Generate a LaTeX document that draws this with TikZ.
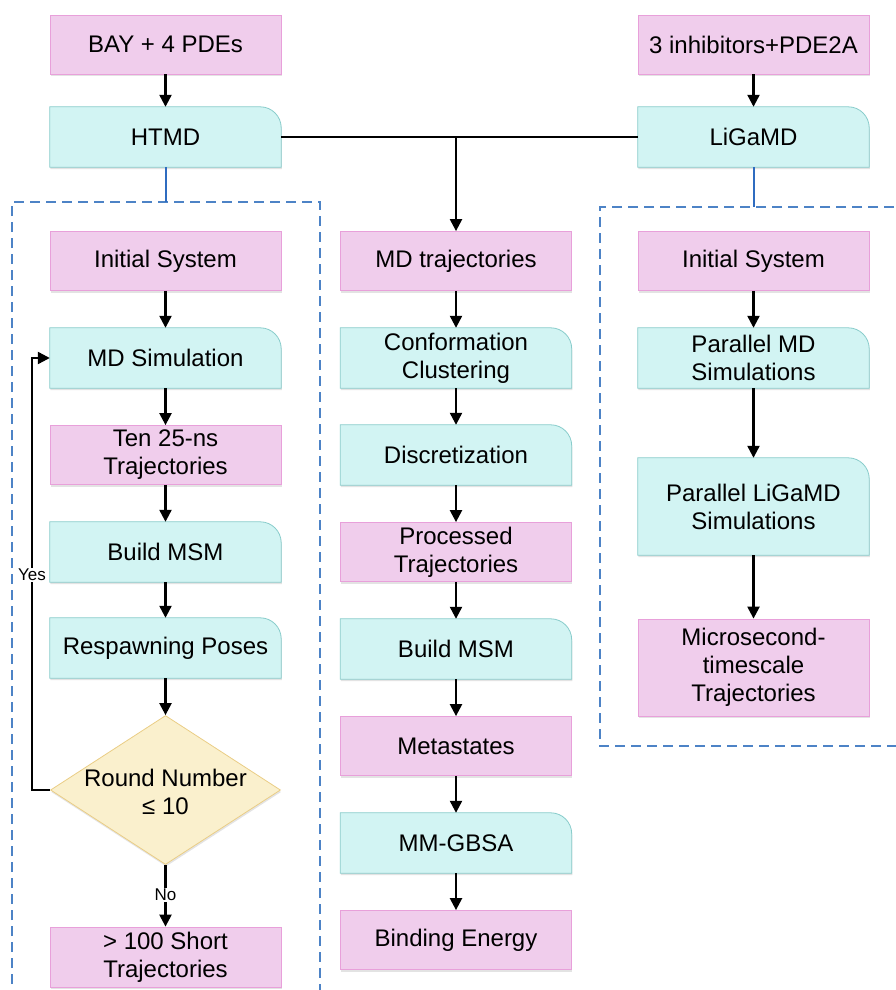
\documentclass[tikz,border=0pt]{standalone}
\usepackage{fontspec}
\setmainfont{Liberation Sans}
\usetikzlibrary{shapes.geometric,arrows.meta,backgrounds,shadows}
\definecolor{pinkfill}{HTML}{F0CDEC}
\definecolor{pinkline}{HTML}{E8A0DA}
\definecolor{cyanfill}{HTML}{D2F4F3}
\definecolor{cyanline}{HTML}{88CCCB}
\definecolor{yelfill}{HTML}{FAF0CD}
\definecolor{yelline}{HTML}{EACD85}
\definecolor{dashblue}{HTML}{4D83C6}
\definecolor{linkblue}{HTML}{2F6CC0}
\begin{document}
\begin{tikzpicture}[x=1pt,y=-1pt,
  every node/.style={font=\fontsize{24}{28}\selectfont, align=center, inner sep=0pt},
  softshadow/.style={drop shadow={shadow xshift=0.6pt, shadow yshift=-2pt, opacity=0.18, fill=black!60}},
  pinkbox/.style={draw=pinkline, fill=pinkfill, line width=0.8pt, minimum width=231pt, minimum height=59pt, softshadow},
  cyanbox/.style={minimum width=231pt, minimum height=60pt},
  arr/.style={line width=2.3pt, -{Triangle[length=12pt,width=12pt]}},
  plainline/.style={line width=2.3pt},
  blueline/.style={draw=linkblue, line width=2pt},
  dashbox/.style={draw=dashblue, line width=1.4pt, dash pattern=on 10pt off 6pt},
  lbl/.style={font=\fontsize{17}{20}\selectfont, fill=white, inner sep=1.5pt}
]
\useasboundingbox (0,0) rectangle (896,990);

% top row
\node[pinkbox] (bay) at (165.5,44.5) {BAY + 4 PDEs};
\node[cyanbox] (htmd) at (165.5,137) {HTMD};
\node[pinkbox] (inh) at (753.5,44.5) {3 inhibitors+PDE2A};
\node[cyanbox] (ligamd) at (753.5,137) {LiGaMD};

% left column
\node[pinkbox] (lis) at (165.5,261) {Initial System};
\node[cyanbox] (lmd) at (165.5,358) {MD Simulation};
\node[pinkbox] (lten) at (165.5,455) {Ten 25-ns\\Trajectories};
\node[cyanbox] (lmsm) at (165.5,552) {Build MSM};
\node[cyanbox] (lresp) at (165.5,648) {Respawning Poses};
\node[diamond, draw=yelline, fill=yelfill, line width=0.8pt, minimum width=230pt, minimum height=149pt, softshadow] (dia) at (165.5,790) {};
\node (diatext) at (165.5,792) {Round Number\\≤ 10};
\node[pinkbox, minimum height=60pt] (lshort) at (165.5,957) {> 100 Short\\Trajectories};

% middle column
\node[pinkbox] (mtraj) at (456,261) {MD trajectories};
\node[cyanbox] (mconf) at (456,358) {Conformation\\Clustering};
\node[cyanbox] (mdisc) at (456,455) {Discretization};
\node[pinkbox] (mproc) at (456,552) {Processed\\Trajectories};
\node[cyanbox] (mmsm) at (456,649) {Build MSM};
\node[pinkbox] (mmeta) at (456,746) {Metastates};
\node[cyanbox] (mgbsa) at (456,843) {MM-GBSA};
\node[pinkbox] (mbind) at (456,940) {Binding Energy};

% right column
\node[pinkbox] (ris) at (753.5,261) {Initial System};
\node[cyanbox] (rpmd) at (753.5,358) {Parallel MD\\Simulations};
\node[cyanbox, minimum height=97pt] (rplig) at (753.5,506.5) {Parallel LiGaMD\\Simulations};
\node[pinkbox, minimum height=97pt] (rmicro) at (753.5,667.5) {Microsecond-\\timescale\\Trajectories};

% cyan shapes (rounded top-right corner)
\begin{scope}[on background layer]
\foreach \n in {htmd,ligamd,lmd,lmsm,lresp,mconf,mdisc,mmsm,mgbsa,rpmd,rplig}{
  \draw[draw=cyanline, fill=cyanfill, line width=0.8pt, softshadow]
    (\n.south west) -- (\n.north west) -- ([xshift=-21pt]\n.north east)
    arc[start angle=90, end angle=0, radius=21pt] -- (\n.south east) -- cycle;
}
\end{scope}

% dashed group frames
\coordinate (lf1) at (12,1000);
\coordinate (lf2) at (12,202);
\coordinate (lf3) at (320,202);
\coordinate (lf4) at (320,1000);
\draw[dashbox] (lf1) -- (lf2) -- (lf3) -- (lf4);
\coordinate (rf1) at (910,207);
\coordinate (rf2) at (600,207);
\coordinate (rf3) at (600,746);
\coordinate (rf4) at (910,746);
\draw[dashbox] (rf1) -- (rf2) -- (rf3) -- (rf4);
\coordinate (ltop) at (165.5,202);
\coordinate (rtop) at (753.5,207);
\draw[blueline] (htmd.south) -- (ltop);
\draw[blueline] (ligamd.south) -- (rtop);

% top connectors
\draw[arr] (bay) -- (htmd);
\draw[arr] (inh) -- (ligamd);
\draw[plainline] (htmd.east) -- (ligamd.west);
\coordinate (junc) at (htmd.east -| mtraj.north);
\draw[arr] (junc) -- (mtraj.north);

% left flow
\draw[arr] (lis) -- (lmd);
\draw[arr] (lmd) -- (lten);
\draw[arr] (lten) -- (lmsm);
\draw[arr] (lmsm) -- (lresp);
\draw[arr] (lresp.south) -- (dia.north);
\coordinate (yescorner) at (32,790);
\draw[arr] (dia.west) -- (yescorner) |- (lmd.west);
\node[lbl] (yes) at (32,575) {Yes};
\draw[arr] (dia.south) -- (lshort.north);
\node[lbl] (no) at (165.5,895) {No};

% middle flow
\draw[arr] (mtraj) -- (mconf);
\draw[arr] (mconf) -- (mdisc);
\draw[arr] (mdisc) -- (mproc);
\draw[arr] (mproc) -- (mmsm);
\draw[arr] (mmsm) -- (mmeta);
\draw[arr] (mmeta) -- (mgbsa);
\draw[arr] (mgbsa) -- (mbind);

% right flow
\draw[arr] (ris) -- (rpmd);
\draw[arr] (rpmd) -- (rplig);
\draw[arr] (rplig) -- (rmicro);
\end{tikzpicture}
\end{document}
